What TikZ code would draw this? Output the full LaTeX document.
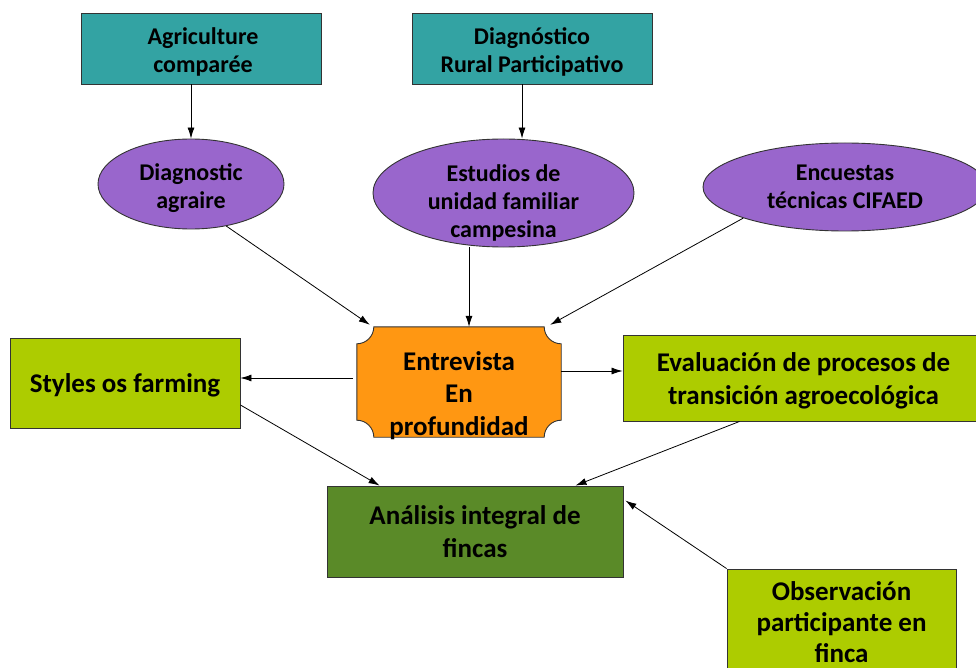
\documentclass[tikz,border=0pt]{standalone}
\usepackage{fontspec}
\setmainfont{Carlito}
\usetikzlibrary{shapes.geometric,arrows.meta,calc}
\definecolor{tealc}{HTML}{33A3A3}
\definecolor{purplec}{HTML}{9966CC}
\definecolor{orangec}{HTML}{FF9712}
\definecolor{limec}{HTML}{ADCC00}
\definecolor{darkg}{HTML}{5A8A28}
\begin{document}
\begin{tikzpicture}[x=1pt,y=1pt,
  box/.style={draw=black!80,line width=0.9pt,align=center,inner sep=0pt},
  bigtxt/.style={font=\fontsize{27}{32.5}\selectfont\bfseries},
  smtxt/.style={font=\fontsize{24}{28}\selectfont\bfseries},
  txt/.style={align=center,inner sep=0pt},
  oval/.style={box,ellipse,fill=purplec,smtxt},
  arr/.style={line width=0.8pt,-{Latex[length=11pt,width=7pt]}}]
\useasboundingbox (0,0) rectangle (976,-668);
\clip (0,0) rectangle (976,-668);
\fill[white] (0,0) rectangle (976,-668);

% top boxes
\node[box,fill=tealc,minimum width=240pt,minimum height=71pt] (agr) at (201,-48.5) {};
\node[txt,smtxt] (agrT) at (203,-51.5) {Agriculture\\compar\'ee};
\node[box,fill=tealc,minimum width=240pt,minimum height=71pt] (drp) at (532,-48.5) {};
\node[txt,smtxt] (drpT) at (532,-51.5) {Diagn\'ostico\\Rural Participativo};

% ellipses
\node[oval,minimum width=186pt,minimum height=90pt] (dag) at (191,-184) {};
\node[txt,smtxt] (dagT) at (191,-188) {Diagnostic\\agraire};
\node[oval,minimum width=261pt,minimum height=108pt] (est) at (503.5,-193) {};
\node[txt,smtxt] (estT) at (503.5,-203) {Estudios de\\unidad familiar\\campesina};
\node[oval,minimum width=284pt,minimum height=88pt] (enc) at (845,-187) {Encuestas\\t\'ecnicas CIFAED};

% central orange node
\node[minimum width=204pt,minimum height=110pt,inner sep=0pt] (ent) at (459,-382) {};
\def\rr{17}
\draw[fill=orangec,draw=black!80,line width=0.9pt]
  ($(ent.north west)+(\rr,0)$) -- ($(ent.north east)+(-\rr,0)$)
  arc[start angle=180,end angle=270,radius=\rr]
  -- ($(ent.south east)+(0,\rr)$)
  arc[start angle=90,end angle=180,radius=\rr]
  -- ($(ent.south west)+(\rr,0)$)
  arc[start angle=0,end angle=90,radius=\rr]
  -- ($(ent.north west)+(0,-\rr)$)
  arc[start angle=270,end angle=360,radius=\rr] -- cycle;
\node[txt,bigtxt] (entT) at (459,-395.5) {Entrevista\\En\\profundidad};

% green boxes
\node[box,fill=limec,bigtxt,minimum width=230pt,minimum height=90pt] (sty) at (125,-383) {};
\node[txt,bigtxt] (styT) at (125,-385) {Styles os farming};
\node[box,fill=limec,minimum width=361pt,minimum height=86pt] (eva) at (803.5,-378) {};
\node[txt,bigtxt] (evaT) at (803.5,-381) {Evaluaci\'on de procesos de\\transici\'on agroecol\'ogica};
\node[box,fill=darkg,bigtxt,minimum width=296pt,minimum height=91pt] (ana) at (475,-531.5) {An\'alisis integral de\\fincas};
\node[box,fill=limec,minimum width=229pt,minimum height=108pt] (obs) at (841.5,-623) {};
\node[txt,font=\fontsize{27}{31}\selectfont\bfseries] (obsT) at (841.5,-622) {Observaci\'on\\participante en\\finca};

% connectors
\draw[arr] (dag.north |- agr.south) -- (dag.north);
\coordinate (d2) at ($(drp.south)+(-10,0)$);
\draw[arr] (d2) -- (d2 |- est.north);
\draw[arr] (dag.-50) -- ($(ent.north west)+(13,2)$);
\coordinate (e2) at ($(ent.north)+(10,0)$);
\draw[arr] (e2 |- est.south) -- (e2);
\draw[arr] (enc.197) -- ($(ent.north east)+(-11,2)$);
\coordinate (e3) at ($(ent.west)+(-4,4)$);
\draw[arr] (e3) -- (e3 -| sty.east);
\coordinate (e4) at ($(ent.east)+(0,11)$);
\draw[arr] (e4) -- (e4 -| eva.west);
\draw[arr] ($(sty.east)+(0,-22)$) -- ($(ana.north west)+(53,0)$);
\draw[arr] ($(eva.south west)+(117,0)$) -- ($(ana.north east)+(-48,0)$);
\draw[arr] (obs.north west) -- ($(ana.north east)+(2,-15)$);
\end{tikzpicture}
\end{document}
